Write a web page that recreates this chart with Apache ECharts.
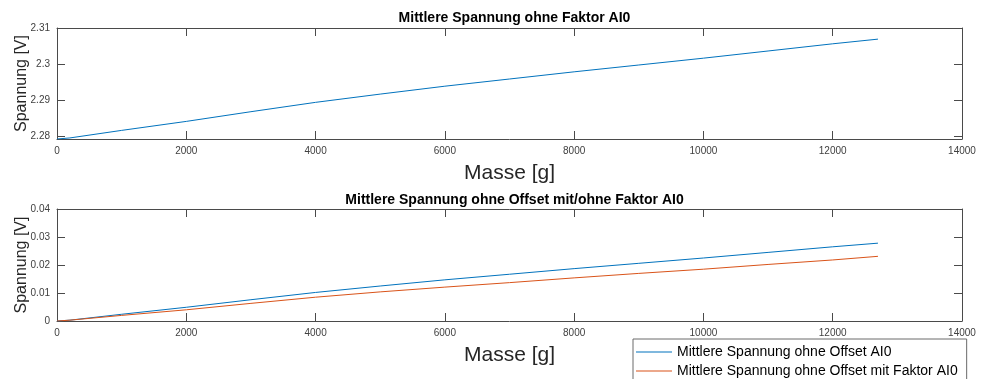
<!DOCTYPE html>
<html>
<head>
<meta charset="utf-8">
<script src="https://cdn.jsdelivr.net/npm/echarts@6/dist/echarts.min.js"></script>
<style>
html,body{margin:0;padding:0;background:#fff;}
#c{width:981px;height:379px;}
</style>
</head>
<body>
<div id="c"></div>
<script>
// Data
const masses = [0, 200, 1000, 2000, 3000, 4000, 5000, 6000, 7000, 8000, 9000, 10000, 11000, 12000, 12700];
const voltRaw = [2.2791, 2.2794, 2.2815, 2.2840, 2.2867, 2.2893, 2.2916, 2.2938, 2.2958, 2.2978, 2.2997, 2.3016, 2.3036, 2.3056, 2.3069];
const voltNoOffset = [0, 0.0003, 0.0024, 0.0049, 0.0076, 0.0102, 0.0125, 0.0147, 0.0167, 0.0187, 0.0206, 0.0225, 0.0245, 0.0265, 0.0278];
const voltNoOffsetFactor = [0, 0.0003, 0.0020, 0.0040, 0.0063, 0.0085, 0.0104, 0.0121, 0.0137, 0.0154, 0.0170, 0.0185, 0.0202, 0.0218, 0.0231];
const topYTicks = [2.28, 2.29, 2.3, 2.31];
const titles = ['Mittlere Spannung ohne Faktor AI0', 'Mittlere Spannung ohne Offset mit/ohne Faktor AI0'];
const seriesNames = ['Mittlere Spannung ohne Faktor AI0', 'Mittlere Spannung ohne Offset AI0', 'Mittlere Spannung ohne Offset mit Faktor AI0'];
const xName = 'Masse [g]';
const yName = 'Spannung [V]';

const FONT = 'Liberation Sans, Arial, Helvetica, sans-serif';
const AX = '#4a4a4a';
const LBL = '#404040';
const pair = (vals) => masses.map((m, i) => [m, vals[i]]);
const fmt = v => String(+(+v).toFixed(4));

const grids = [
  {left: 57, right: 19, top: 28, height: 111, outerBoundsMode: 'none', containLabel: false},
  {left: 57, right: 19, top: 209, height: 112, outerBoundsMode: 'none', containLabel: false}
];

function xAxes(g) {
  return [
    {type: 'value', gridIndex: g, min: 0, max: 14000, interval: 2000, position: 'bottom',
     name: xName, nameLocation: 'middle', nameGap: 24, nameMoveOverlap: false,
     nameTextStyle: {fontFamily: FONT, fontSize: 21, color: '#262626'},
     axisLine: {show: true, onZero: false, lineStyle: {color: AX, width: 1}},
     axisTick: {show: true, inside: true, length: 8, lineStyle: {color: AX}},
     axisLabel: {fontFamily: FONT, fontSize: 10, color: LBL, margin: 7, formatter: fmt},
     splitLine: {show: false}},
    {type: 'value', gridIndex: g, min: 0, max: 14000, interval: 2000, position: 'top',
     axisLine: {show: true, onZero: false, lineStyle: {color: AX, width: 1}},
     axisTick: {show: true, inside: true, length: 8, lineStyle: {color: AX}},
     axisLabel: {show: false}, splitLine: {show: false}}
  ];
}

const topTickCfg = {show: true, inside: true, length: 8, lineStyle: {color: AX}, customValues: topYTicks};
const option = {
  animation: false,
  backgroundColor: '#fff',
  title: [
    {text: titles[0], left: 509.5, top: 6, textAlign: 'center',
     textStyle: {fontFamily: FONT, fontSize: 14, fontWeight: 'bold', color: '#000'}},
    {text: titles[1], left: 509.5, top: 188, textAlign: 'center',
     textStyle: {fontFamily: FONT, fontSize: 14, fontWeight: 'bold', color: '#000'}}
  ],
  grid: grids,
  xAxis: [...xAxes(0), ...xAxes(1)],
  yAxis: [
    {type: 'value', gridIndex: 0, min: 2.2791, max: 2.31, position: 'left',
     name: yName, nameLocation: 'middle', nameGap: 27, nameMoveOverlap: false,
     nameTextStyle: {fontFamily: FONT, fontSize: 16, color: '#262626'},
     axisLine: {show: true, onZero: false, lineStyle: {color: AX}},
     axisTick: topTickCfg,
     axisLabel: {fontFamily: FONT, fontSize: 10, color: LBL, margin: 7, customValues: topYTicks, formatter: fmt},
     splitLine: {show: false}},
    {type: 'value', gridIndex: 0, min: 2.2791, max: 2.31, position: 'right',
     axisLine: {show: true, onZero: false, lineStyle: {color: AX}},
     axisTick: topTickCfg, axisLabel: {show: false}, splitLine: {show: false}},
    {type: 'value', gridIndex: 1, min: 0, max: 0.04, interval: 0.01, position: 'left',
     name: yName, nameLocation: 'middle', nameGap: 27, nameMoveOverlap: false,
     nameTextStyle: {fontFamily: FONT, fontSize: 16, color: '#262626'},
     axisLine: {show: true, onZero: false, lineStyle: {color: AX}},
     axisTick: {show: true, inside: true, length: 8, lineStyle: {color: AX}},
     axisLabel: {fontFamily: FONT, fontSize: 10, color: LBL, margin: 7, formatter: fmt},
     splitLine: {show: false}},
    {type: 'value', gridIndex: 1, min: 0, max: 0.04, interval: 0.01, position: 'right',
     axisLine: {show: true, onZero: false, lineStyle: {color: AX}},
     axisTick: {show: true, inside: true, length: 8, lineStyle: {color: AX}},
     axisLabel: {show: false}, splitLine: {show: false}}
  ],
  legend: {
    data: [seriesNames[1], seriesNames[2]],
    orient: 'vertical', left: 633, top: 339, width: 340, height: 60,
    backgroundColor: '#fff', borderColor: '#6a6a6a', borderWidth: 1,
    padding: [6, 9, 6, 3], itemGap: 5, itemWidth: 36, itemHeight: 1.2,
    icon: 'rect',
    textStyle: {fontFamily: FONT, fontSize: 14, color: '#000', lineHeight: 14}
  },
  series: [
    {name: seriesNames[0], type: 'line', xAxisIndex: 0, yAxisIndex: 0, data: pair(voltRaw),
     showSymbol: false, lineStyle: {color: '#0072BD', width: 1}, itemStyle: {color: '#0072BD'}},
    {name: seriesNames[1], type: 'line', xAxisIndex: 2, yAxisIndex: 2, data: pair(voltNoOffset),
     showSymbol: false, lineStyle: {color: '#0072BD', width: 1}, itemStyle: {color: '#0072BD'}},
    {name: seriesNames[2], type: 'line', xAxisIndex: 2, yAxisIndex: 2, data: pair(voltNoOffsetFactor),
     showSymbol: false, lineStyle: {color: '#D95319', width: 1}, itemStyle: {color: '#D95319'}}
  ]
};
const chart = echarts.init(document.getElementById('c'), null, {renderer: 'canvas'});
chart.setOption(option);
</script>
</body>
</html>
